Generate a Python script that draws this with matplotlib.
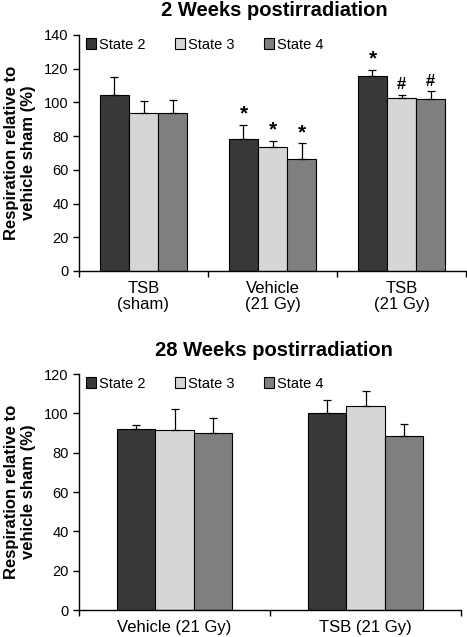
import matplotlib
matplotlib.use("Agg")
import matplotlib.pyplot as plt
import numpy as np

plt.rcParams['font.family'] = ['Liberation Sans', 'DejaVu Sans']

states = ['State 2', 'State 3', 'State 4']
colors = ['#383838', '#d6d6d6', '#7f7f7f']

# 2 weeks postirradiation
groups_2w = ['TSB\n(sham)', 'Vehicle\n(21 Gy)', 'TSB\n(21 Gy)']
mean_2w = {
    'State 2': [104.2, 78.2, 115.8],
    'State 3': [93.7, 73.3, 102.6],
    'State 4': [93.7, 66.3, 102.2],
}
err_2w = {
    'State 2': [10.8, 8.7, 3.6],
    'State 3': [6.9, 4.1, 2.0],
    'State 4': [7.5, 9.5, 4.3],
}
marks_2w = {
    'State 2': ['', '*', '*'],
    'State 3': ['', '*', '#'],
    'State 4': ['', '*', '#'],
}

# 28 weeks postirradiation
groups_28w = ['Vehicle (21 Gy)', 'TSB (21 Gy)']
mean_28w = {
    'State 2': [92.0, 100.2],
    'State 3': [91.5, 103.9],
    'State 4': [90.0, 88.5],
}
err_28w = {
    'State 2': [2.1, 6.4],
    'State 3': [10.7, 7.5],
    'State 4': [7.6, 6.2],
}


def draw_panel(ax, groups, means, errs, width, ymax, marks=None):
    x = np.arange(len(groups))
    for i, s in enumerate(states):
        pos = x + (i - 1) * width
        ax.bar(pos, means[s], width, color=colors[i], edgecolor='black',
               linewidth=0.8, label=s, zorder=2)
        ax.errorbar(pos, means[s], yerr=[np.zeros(len(groups)), errs[s]],
                    fmt='none', ecolor='black', elinewidth=0.9, capsize=3,
                    capthick=0.9, zorder=3)
        if marks:
            for p, m, e, lab in zip(pos, means[s], errs[s], marks[s]):
                if lab == '*':
                    ax.text(p, m + e + 0.5, lab, ha='center', va='bottom',
                            fontsize=15, fontweight='bold')
                elif lab:
                    ax.text(p, m + e + 1.5, lab, ha='center', va='bottom',
                            fontsize=12, fontweight='bold')
    ax.set_xlim(-0.5, len(groups) - 0.5)
    ax.set_ylim(0, ymax)
    ax.set_yticks(np.arange(0, ymax + 1, 20))
    ax.set_xticks(x)
    ax.set_xticklabels(groups, fontsize=12, linespacing=1.1)
    ax.set_xticks(np.arange(-0.5, len(groups)), minor=True)
    ax.tick_params(axis='x', which='major', length=0, pad=7)
    ax.tick_params(axis='x', which='minor', length=4, width=1, direction='out')
    ax.tick_params(axis='y', length=4, width=1, labelsize=10.5, direction='out')
    for sp in ['top', 'right']:
        ax.spines[sp].set_visible(False)
    ax.spines['left'].set_linewidth(1)
    ax.spines['bottom'].set_linewidth(1)
    ax.set_ylabel('Respiration relative to\nvehicle sham (%)', fontsize=12,
                  fontweight='bold', linespacing=1.1, labelpad=6)
    ax.legend(loc='upper left', ncol=3, frameon=False, fontsize=10.5,
              handlelength=0.7, handleheight=0.7, handletextpad=0.2,
              columnspacing=2.0, borderaxespad=0.1, bbox_to_anchor=(0.0, 1.02))


fig = plt.figure(figsize=(4.67, 6.37), dpi=100)
ax1 = fig.add_axes([79 / 467, (637 - 271) / 637, (466 - 79) / 467, 236 / 637])
ax2 = fig.add_axes([79 / 467, (637 - 610) / 637, (461 - 79) / 467, 236 / 637])

draw_panel(ax1, groups_2w, mean_2w, err_2w, 0.225, 140, marks_2w)
draw_panel(ax2, groups_28w, mean_28w, err_28w, 0.2, 120)

fig.text(274 / 467, 1 - 11 / 637, '2 Weeks postirradiation', ha='center',
         va='center', fontsize=14.5, fontweight='bold')
fig.text(274 / 467, 1 - 350 / 637, '28 Weeks postirradiation', ha='center',
         va='center', fontsize=14.5, fontweight='bold')

fig.savefig('out.png', dpi=100)
